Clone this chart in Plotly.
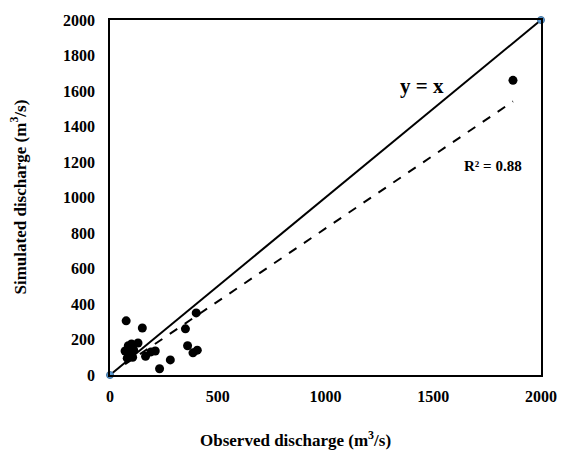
import numpy as np
import plotly.graph_objects as go

# Observed vs simulated discharge (m3/s)
observed = [70, 75, 80, 85, 90, 100, 105, 110, 130, 150, 165, 190, 210, 230,
            280, 350, 360, 385, 400, 405, 1870]
simulated = [135, 305, 95, 165, 120, 175, 100, 140, 180, 265, 105, 130, 135, 35,
             85, 260, 165, 125, 350, 140, 1660]

# 1:1 reference line
line_x = [0, 2000]
line_y = [0, 2000]

x_ticks = [0, 500, 1000, 1500, 2000]
y_ticks = [0, 200, 400, 600, 800, 1000, 1200, 1400, 1600, 1800, 2000]

# Linear trend fitted to the scatter
slope, intercept = np.polyfit(observed, simulated, 1)
trend_x = np.array([min(observed), max(observed)])
trend_y = slope * trend_x + intercept

FONT = "Liberation Serif"

fig = go.Figure()
fig.add_trace(go.Scatter(
    x=line_x, y=line_y, mode="lines+markers",
    line=dict(color="black", width=2),
    marker=dict(size=7, color="#5B9BD5", line=dict(color="#41719C", width=1)),
    cliponaxis=False, showlegend=False, hoverinfo="skip",
))
fig.add_trace(go.Scatter(
    x=trend_x, y=trend_y, mode="lines",
    line=dict(color="black", width=2, dash="dash"),
    showlegend=False, hoverinfo="skip",
))
fig.add_trace(go.Scatter(
    x=observed, y=simulated, mode="markers",
    marker=dict(size=9, color="black"),
    cliponaxis=False, showlegend=False,
))

fig.add_annotation(x=1450, y=1630, text="<b>y = x</b>", showarrow=False,
                   font=dict(family=FONT, size=21, color="black"))
fig.add_annotation(x=1775, y=1180, text="<b>R² = 0.88</b>", showarrow=False,
                   font=dict(family=FONT, size=15, color="black"))

# Axis titles placed as paper-anchored annotations
fig.add_annotation(xref="paper", yref="paper", x=0.43, y=0, yshift=-64,
                   xanchor="center", yanchor="middle", showarrow=False,
                   text="<b>Observed discharge (m<sup>3</sup>/s)</b>",
                   font=dict(family=FONT, size=17, color="black"))
fig.add_annotation(xref="paper", yref="paper", x=0, xshift=-92, y=0.5,
                   xanchor="center", yanchor="middle", showarrow=False,
                   textangle=-90,
                   text="<b>Simulated discharge (m<sup>3</sup>/s)</b>",
                   font=dict(family=FONT, size=17, color="black"))

axis_common = dict(
    showgrid=False, zeroline=False, showline=True, linecolor="black",
    linewidth=1.5, mirror=True, ticks="",
    tickfont=dict(family=FONT, size=16, color="black"),
)
fig.update_xaxes(range=[0, 2000], tickvals=x_ticks,
                 ticktext=[f"<b>{v}</b>" for v in x_ticks],
                 ticklabelstandoff=6, **axis_common)
fig.update_yaxes(range=[0, 2000], tickvals=y_ticks,
                 ticktext=[f"<b>{v}</b>" for v in y_ticks],
                 ticklabelstandoff=10, **axis_common)

fig.update_layout(
    width=569, height=453,
    margin=dict(l=110, r=20, t=19, b=78),
    plot_bgcolor="white", paper_bgcolor="white",
)

fig.write_html("out.html")
